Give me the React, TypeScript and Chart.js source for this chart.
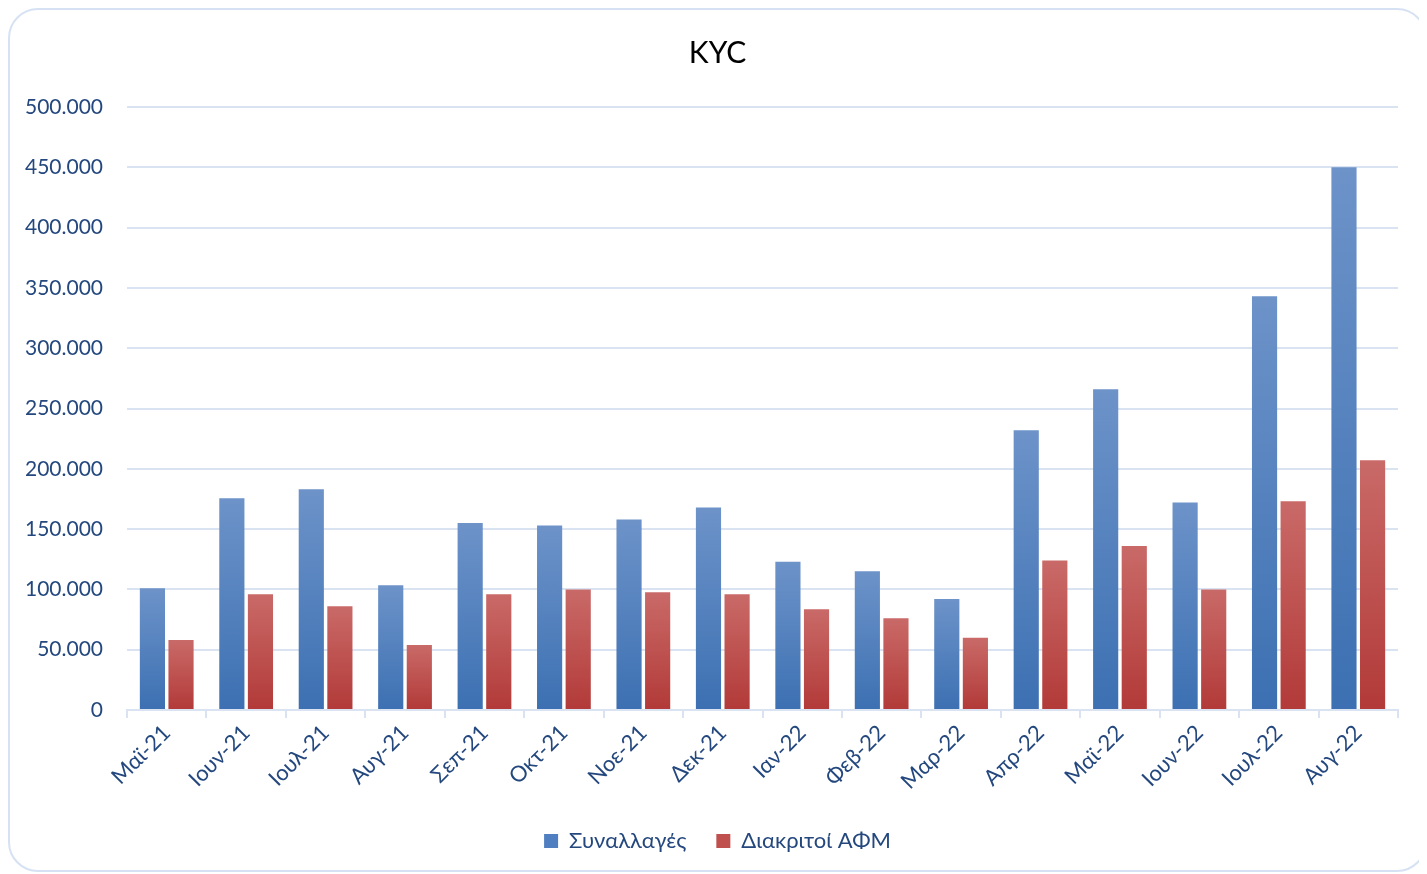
import React, { useEffect, useRef } from "react";
import { Chart, registerables } from "chart.js";

Chart.register(...registerables);

const categories = [
  "Μαϊ-21", "Ιουν-21", "Ιουλ-21", "Αυγ-21", "Σεπ-21", "Οκτ-21", "Νοε-21", "Δεκ-21",
  "Ιαν-22", "Φεβ-22", "Μαρ-22", "Απρ-22", "Μαϊ-22", "Ιουν-22", "Ιουλ-22", "Αυγ-22",
];
const transactions = [
  101000, 175500, 183000, 103500, 155000, 153000, 158000, 168000,
  123000, 115000, 92000, 232000, 266000, 172000, 343000, 450000,
];
const distinctAfm = [
  58000, 96000, 86000, 54000, 96000, 100000, 97700, 96000,
  83600, 76000, 60000, 124000, 136000, 100000, 173000, 207000,
];
const seriesNames = ["Συναλλαγές", "Διακριτοί ΑΦΜ"];
const yTicks = { min: 0, max: 500000, step: 50000 };
const titleText = "KYC";

const FONT = "Lato, 'Open Sans', sans-serif";
const TEXT = "#24487e";
const GRID = "#d9e3f2";

function fmt(v: number) {
  return String(Math.round(v)).replace(/\B(?=(\d{3})+(?!\d))/g, ".");
}

function gradFill(top: string, bottom: string) {
  return (ctx: any) => {
    const chart = ctx.chart;
    const area = chart.chartArea;
    if (!area || ctx.type !== "data") return bottom;
    const y = chart.scales.y;
    const v = ctx.parsed ? ctx.parsed.y : ctx.raw;
    const y0 = y.getPixelForValue(v);
    const y1 = y.getPixelForValue(0);
    if (!isFinite(y0) || !isFinite(y1) || y0 === y1) return bottom;
    const g = chart.ctx.createLinearGradient(0, y0, 0, y1);
    g.addColorStop(0, top);
    g.addColorStop(1, bottom);
    return g;
  };
}

const centeredTitle = {
  id: "centeredTitle",
  afterLayout(chart: any) {
    const lg = chart.legend;
    if (lg) {
      lg.left = 0;
      lg.right = chart.width;
      lg.width = chart.width;
    }
  },
  afterDraw(chart: any) {
    const c = chart.ctx;
    c.save();
    c.font = `normal 30px ${FONT}`;
    c.fillStyle = "#000000";
    c.textAlign = "center";
    c.textBaseline = "middle";
    c.fillText(titleText, chart.width / 2, 43);
    c.restore();
  },
};

export default function App() {
  const ref = useRef<HTMLCanvasElement>(null);
  useEffect(() => {
    if (!ref.current) return;
    const chart = new Chart(ref.current, {
      type: "bar",
      data: {
        labels: categories,
        datasets: [
          {
            label: seriesNames[0],
            data: transactions,
            backgroundColor: gradFill("#6d93c9", "#3c70b2"),
            borderWidth: 0,
          },
          {
            label: seriesNames[1],
            data: distinctAfm,
            backgroundColor: gradFill("#c96a68", "#b23a38"),
            borderWidth: 0,
          },
        ],
      },
      plugins: [centeredTitle],
      options: {
        animation: false,
        responsive: true,
        maintainAspectRatio: false,
        datasets: { bar: { categoryPercentage: 0.72, barPercentage: 0.88 } },
        layout: { padding: { left: 0, right: 27, top: 97, bottom: 8 } },
        plugins: {
          title: { display: false },
          legend: {
            position: "bottom",
            labels: {
              color: TEXT,
              font: { family: FONT, size: 22 },
              boxWidth: 14,
              boxHeight: 14,
              padding: 30,
              generateLabels: (c: any) =>
                c.data.datasets.map((d: any, i: number) => ({
                  text: d.label,
                  fillStyle: i === 0 ? "#4f7fc0" : "#c0504d",
                  strokeStyle: "rgba(0,0,0,0)",
                  lineWidth: 0,
                  datasetIndex: i,
                  fontColor: TEXT,
                })),
            },
          },
          tooltip: { enabled: false },
        },
        scales: {
          x: {
            afterFit: (s: any) => {
              s.height = 90;
            },
            grid: {
              display: true,
              drawOnChartArea: false,
              drawTicks: true,
              tickLength: 8,
              color: GRID,
              lineWidth: 2,
              offset: true,
            },
            border: { display: true, color: GRID, width: 2 },
            ticks: {
              color: TEXT,
              font: { family: FONT, size: 22 },
              maxRotation: 45,
              minRotation: 45,
              autoSkip: false,
              padding: 2,
            },
          },
          y: {
            min: yTicks.min,
            max: yTicks.max,
            afterFit: (s: any) => {
              s.width = 117;
            },
            grid: { color: GRID, lineWidth: 2, drawTicks: false },
            border: { display: false },
            ticks: {
              stepSize: yTicks.step,
              color: TEXT,
              font: { family: FONT, size: 21 },
              padding: 24,
              callback: (v: any) => fmt(Number(v)),
            },
          },
        },
      },
    });
    return () => chart.destroy();
  }, []);

  return (
    <div
      style={{
        width: 1419,
        height: 864,
        border: "2px solid #d6e2f3",
        borderRadius: 30,
        boxSizing: "border-box",
        position: "relative",
        background: "#fff",
      }}
    >
      <canvas ref={ref} />
    </div>
  );
}
